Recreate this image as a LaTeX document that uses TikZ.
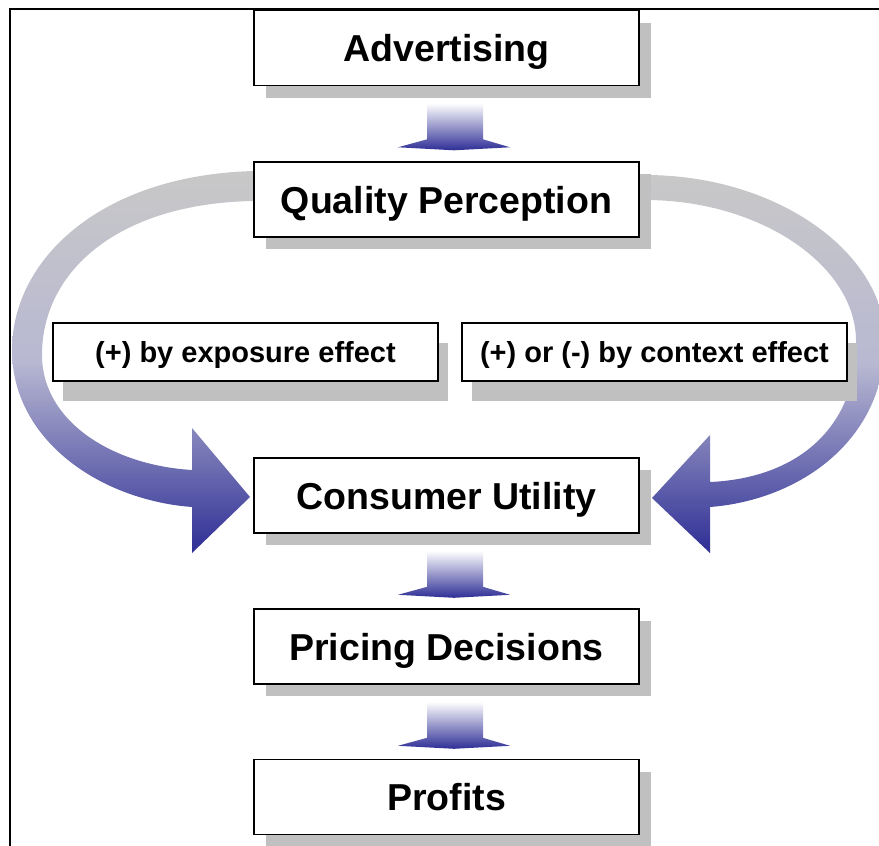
\documentclass[tikz,border=0pt]{standalone}
\usepackage{fontspec}
\setmainfont{Liberation Sans}
\usetikzlibrary{calc}
\usetikzlibrary{shadows}
\usetikzlibrary{backgrounds}

\definecolor{shadowgray}{RGB}{192,192,192}
\definecolor{bandgray}{RGB}{200,200,200}
\definecolor{bandmid}{RGB}{184,184,210}
\definecolor{arrowblue}{RGB}{46,46,150}

\tikzset{
 box/.style={draw=black, line width=1.6pt, fill=white, minimum width=385pt, inner sep=0pt, text depth=0pt},
 mainbox/.style={box, minimum height=75pt, font=\fontsize{37.5}{40}\selectfont\bfseries,
   drop shadow={shadow xshift=12pt, shadow yshift=-12pt, fill=shadowgray, opacity=1}},
 effectbox/.style={box, minimum height=58pt, font=\fontsize{29}{32}\selectfont\bfseries,
   drop shadow={shadow xshift=10pt, shadow yshift=-20pt, fill=shadowgray, opacity=1}},
 flow/.style={top color=white, bottom color=arrowblue},
 band/.style={top color=bandgray, bottom color=arrowblue, middle color=bandmid}
}

\begin{document}
\begin{tikzpicture}[x=1pt, y=-1pt]
\useasboundingbox (0,0) rectangle (879,846);
\draw[line width=2.4pt] (879,9) -- (10,9) -- (10,846);

\node[mainbox] (adv) at (446.5,48) {Advertising};
\node[mainbox] (qual) at (446.5,199.5) {Quality Perception};
\node[effectbox] (expo) at (245.5,352) {(+) by exposure effect};
\node[effectbox] (ctx) at (654.5,352) {(+) or (-) by context effect};
\node[mainbox] (cons) at (446.5,495.5) {Consumer Utility};
\node[mainbox] (price) at (446.5,646.5) {Pricing Decisions};
\node[mainbox] (prof) at (446.5,797) {Profits};

% block arrows below the boxes
\foreach \n in {adv,cons,price}
 \shade[flow, shift={(\n.south)}] (-19.5,17) -- (36.5,17) -- (36.5,53) -- (63.5,61) -- (7.5,64) -- (-48.5,61) -- (-19.5,53) -- cycle;

% loops from quality perception to consumer utility
\begin{scope}[on background layer]
\clip (0,0) rectangle (879,846);
\shade[band] (254,171) .. controls (100,175) and (12,260) .. (12,350) .. controls (12,440) and (100,500) .. (192,507) -- (192,553) -- (250,497) -- (192,428) -- (192,470) .. controls (110,465) and (42,420) .. (42,355) .. controls (42,270) and (120,203) .. (254,201) -- cycle;
\shade[band] (645,175) .. controls (780,175) and (885,255) .. (885,340) .. controls (885,440) and (800,500) .. (710,507) -- (710,553) -- (652,498) -- (710,435) -- (710,482) .. controls (800,478) and (858,425) .. (856,340) .. controls (855,265) and (760,200) .. (645,200) -- cycle;
\end{scope}
\end{tikzpicture}
\end{document}
